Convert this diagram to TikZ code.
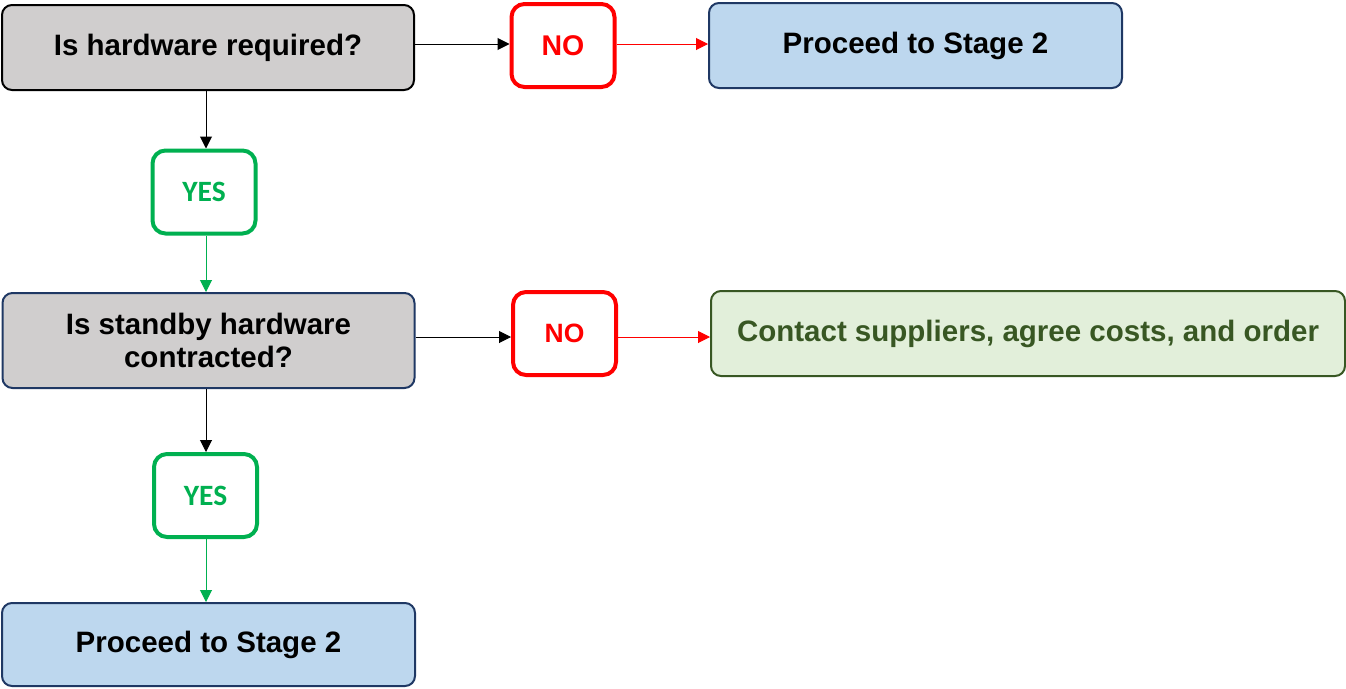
\documentclass[tikz,border=0pt]{standalone}
\usepackage{fontspec}
\setmainfont{Liberation Sans}
\newfontfamily\carlito{Carlito}
\usetikzlibrary{arrows.meta}
\definecolor{qgray}{HTML}{D0CECE}
\definecolor{pblue}{HTML}{BDD7EE}
\definecolor{navy}{HTML}{1F3864}
\definecolor{lgreen}{HTML}{E2EFDA}
\definecolor{dgreen}{HTML}{385723}
\definecolor{ygreen}{HTML}{00B050}
\definecolor{nred}{HTML}{FF0000}
\tikzset{
  box/.style={draw, line width=2pt, rounded corners=10pt, inner sep=0pt, align=center, font=\fontsize{29.5}{33}\selectfont\bfseries},
  qbox/.style={box, fill=qgray, minimum width=412pt},
  pbox/.style={box, fill=pblue, draw=navy, minimum width=413pt, minimum height=85pt},
  nobox/.style={draw=nred, line width=4pt, rounded corners=13pt, fill=white, text=nred, minimum width=103pt, minimum height=83pt, inner sep=0pt, font=\fontsize{28.5}{32}\selectfont\bfseries},
  yesbox/.style={draw=ygreen, line width=4pt, rounded corners=13pt, fill=white, text=ygreen, minimum width=103pt, minimum height=83pt, inner sep=0pt, font=\carlito\fontsize{29.5}{33}\selectfont\bfseries},
  arr/.style={-{Triangle[length=12pt,width=12pt]}, line width=1pt},
}
\begin{document}
\begin{tikzpicture}[x=1pt,y=-1pt]
\useasboundingbox (0,0) rectangle (1346,688);
\node[qbox, draw=black, minimum height=85pt] (q1) at (208,47.5) {Is hardware required?};
\node[nobox] (no1) at (563,45.5) {NO};
\node[pbox] (p1) at (915.5,45.5) {Proceed to Stage 2};
\node[yesbox] (yes1) at (204,192) {YES};
\node[qbox, draw=navy, minimum height=95pt] (q2) at (208.5,340.5) {Is standby hardware\\contracted?};
\node[nobox, font=\fontsize{26.5}{30}\selectfont\bfseries] (no2) at (564.5,333.5) {NO};
\node[box, fill=lgreen, draw=dgreen, text=dgreen, minimum width=634pt, minimum height=85pt] (c) at (1028,333.5) {Contact suppliers, agree costs, and order};
\node[yesbox] (yes2) at (205.5,495.5) {YES};
\node[pbox, minimum height=83pt] (p2) at (208.5,644.5) {Proceed to Stage 2};
\draw[arr] (q1.east |- 0,44) -- (no1.west |- 0,44);
\draw[arr, nred] (no1.east |- 0,44) -- (p1.west |- 0,44);
\draw[arr] (q1.south -| 206,0) -- (yes1.north -| 206,0);
\draw[arr, ygreen] (yes1.south -| 206,0) -- (q2.north -| 206,0);
\draw[arr] (q2.east |- 0,337) -- (no2.west |- 0,337);
\draw[arr, nred] (no2.east |- 0,337) -- (c.west |- 0,337);
\draw[arr] (q2.south -| 206,0) -- (yes2.north -| 206,0);
\draw[arr, ygreen] (yes2.south -| 206,0) -- (p2.north -| 206,0);
\end{tikzpicture}
\end{document}
